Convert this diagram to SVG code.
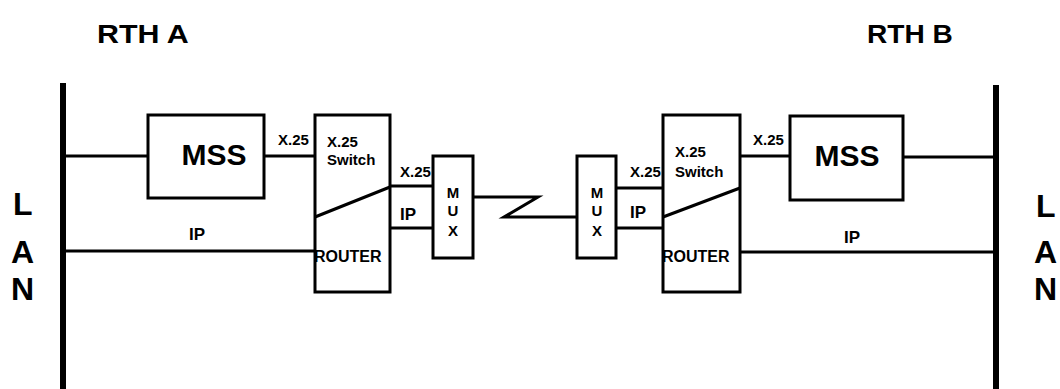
<svg xmlns="http://www.w3.org/2000/svg" width="1060" height="389" viewBox="0 0 1060 389">
<style>
.box{fill:none;stroke:#000;stroke-width:3}
.ln{fill:none;stroke:#000;stroke-width:3}
.bar{fill:none;stroke:#000;stroke-width:6}
text{font-family:"Liberation Sans",Arial,sans-serif;font-weight:bold;fill:#000}
.title{font-size:26px}
.lan{font-size:32px}
.mss{font-size:30px;text-anchor:middle}
.lbl{font-size:15px}
.rt{font-size:16px}
.mux{font-size:15px;text-anchor:middle}
.ip{font-size:17px}
</style>
<rect width="1060" height="389" fill="#fff"/>
<g id="titles">
<text class="title" transform="translate(97,43) scale(1.17,1)">RTH A</text>
<text class="title" transform="translate(867,43) scale(1.08,1)">RTH B</text>
</g>
<g id="lanA">
<line class="bar" x1="63" y1="83" x2="63" y2="389"/>
<text class="lan" x="13" y="215">L</text>
<text class="lan" x="11" y="263">A</text>
<text class="lan" x="11" y="300">N</text>
</g>
<g id="lanB">
<line class="bar" x1="996" y1="85" x2="996" y2="389"/>
<text class="lan" x="1036" y="217">L</text>
<text class="lan" x="1034" y="263">A</text>
<text class="lan" x="1034" y="300">N</text>
</g>
<g id="mssA">
<rect class="box" x="148" y="115" width="116" height="83"/>
<text class="mss" x="214" y="165">MSS</text>
</g>
<g id="switchA">
<rect class="box" x="315" y="115" width="75" height="177"/>
<line class="ln" x1="315" y1="217" x2="390" y2="187"/>
<text class="lbl" x="327" y="147">X.25</text>
<text class="lbl" x="327" y="165">Switch</text>
<text class="rt" x="314" y="262">ROUTER</text>
</g>
<g id="muxA">
<rect class="box" x="433" y="156" width="40" height="102"/>
<text class="mux" x="453" y="198">M</text>
<text class="mux" x="453" y="216">U</text>
<text class="mux" x="453" y="236">X</text>
</g>
<g id="muxB">
<rect class="box" x="577" y="156" width="39" height="102"/>
<text class="mux" x="597" y="198">M</text>
<text class="mux" x="597" y="216">U</text>
<text class="mux" x="597" y="236">X</text>
</g>
<g id="switchB">
<rect class="box" x="663" y="115" width="77" height="177"/>
<line class="ln" x1="663" y1="217" x2="740" y2="188"/>
<text class="lbl" x="675" y="157">X.25</text>
<text class="lbl" x="675" y="177">Switch</text>
<text class="rt" x="662" y="262">ROUTER</text>
</g>
<g id="mssB">
<rect class="box" x="790" y="116" width="113" height="84"/>
<text class="mss" x="847" y="166">MSS</text>
</g>
<g id="connectors">
<line class="ln" x1="63" y1="156" x2="148" y2="156"/>
<line class="ln" x1="264" y1="156" x2="315" y2="156"/>
<line class="ln" x1="63" y1="251" x2="315" y2="251"/>
<line class="ln" x1="390" y1="186" x2="433" y2="186"/>
<line class="ln" x1="390" y1="228" x2="433" y2="228"/>
<polyline class="ln" points="473,197 538,197 504,217 577,217"/>
<line class="ln" x1="616" y1="188" x2="663" y2="188"/>
<line class="ln" x1="616" y1="228" x2="663" y2="228"/>
<line class="ln" x1="740" y1="156" x2="790" y2="156"/>
<line class="ln" x1="903" y1="157" x2="996" y2="157"/>
<line class="ln" x1="740" y1="252" x2="996" y2="252"/>
<text class="lbl" x="278" y="145">X.25</text>
<text class="lbl" x="400" y="177">X.25</text>
<text class="ip" x="400" y="220">IP</text>
<text class="ip" x="189" y="240">IP</text>
<text class="lbl" x="630" y="177">X.25</text>
<text class="ip" x="630" y="218">IP</text>
<text class="lbl" x="753" y="145">X.25</text>
<text class="ip" x="844" y="243">IP</text>
</g>
</svg>
